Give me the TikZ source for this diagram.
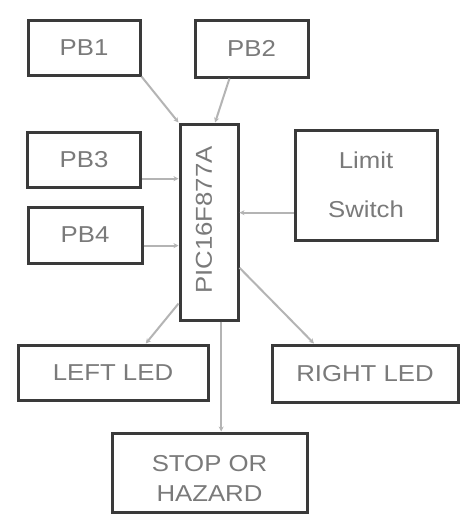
\documentclass[tikz,border=0pt]{standalone}
\usepackage{fontspec}
\setmainfont{Liberation Sans}[FakeStretch=1.12]
\usetikzlibrary{calc,arrows.meta}
\definecolor{boxline}{HTML}{3A3A3A}
\definecolor{conncol}{HTML}{B4B4B4}
\definecolor{txtcol}{HTML}{7A7A7A}
\begin{document}
\begin{tikzpicture}[x=1pt,y=-1pt,
  box/.style={draw=boxline,line width=3pt,fill=white,inner sep=0pt,text=txtcol,
    font=\fontsize{23}{26}\selectfont},
  lbl/.style={text=txtcol,inner sep=0pt,font=\fontsize{23}{30}\selectfont,align=center},
  conn/.style={draw=conncol,line width=2pt,-{Stealth[length=5pt,width=5pt]}}]
\useasboundingbox[fill=white] (0,0) rectangle (460,514);
\node[box,minimum width=112pt,minimum height=55pt] (pb1) at (84,47.5) {PB1};
\node[box,minimum width=113pt,minimum height=57pt] (pb2) at (251.5,48.5) {PB2};
\node[box,minimum width=113pt,minimum height=55pt] (pb3) at (84,159.5) {PB3};
\node[box,minimum width=114pt,minimum height=56pt] (pb4) at (85,235) {PB4};
\node[box,minimum width=58pt,minimum height=196pt] (pic) at (209,222) {};
\node[lbl,rotate=90] (pictxt) at (204,220) {PIC16F877A};
\node[box,minimum width=142pt,minimum height=110pt,align=center,
  font=\fontsize{23}{49}\selectfont] (limit) at (366,185) {Limit\\Switch};
\node[box,minimum width=190pt,minimum height=55pt] (left) at (113,372.5) {LEFT LED};
\node[box,minimum width=186pt,minimum height=57pt] (right) at (365,373.5) {RIGHT LED};
\node[box,minimum width=195pt,minimum height=79pt] (stop) at (209.5,472.5) {};
\node[lbl] (stoptxt) at (209.5,478) {STOP OR\\HAZARD};
% connectors
\draw[conn] (pb1.south east) -- (pic.north west);
\draw[conn] ($(pb2.south west)!0.31!(pb2.south east)$) -- ($(pic.north west)!0.6!(pic.north east)$);
\coordinate (c3) at ($(pb3.north east)!0.83!(pb3.south east)$);
\draw[conn] (c3) -- (c3 -| pic.west);
\coordinate (c4) at ($(pb4.north east)!0.68!(pb4.south east)$);
\draw[conn] (c4) -- (c4 -| pic.west);
\coordinate (cl) at ($(limit.north west)!0.745!(limit.south west)$);
\draw[conn] (cl) -- (cl -| pic.east);
\draw[conn] ($(pic.north west)!0.91!(pic.south west)$) -- ($(left.north west)!0.67!(left.north east)$);
\draw[conn] ($(pic.north east)!0.73!(pic.south east)$) -- ($(right.north west)!0.23!(right.north east)$);
\coordinate (cs) at ($(pic.south west)!0.7!(pic.south east)$);
\draw[conn] (cs) -- (cs |- stop.north);
\end{tikzpicture}
\end{document}
